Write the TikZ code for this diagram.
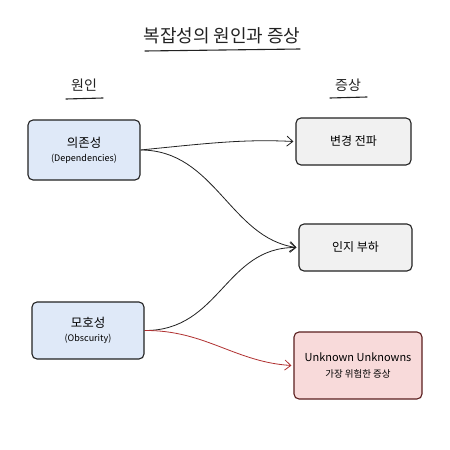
\documentclass[tikz,border=0pt]{standalone}
\usepackage{fontspec}
\setmainfont{Noto Sans CJK KR}
\usetikzlibrary{arrows.meta}
\definecolor{bluefill}{HTML}{DFE9F8}
\definecolor{grayfill}{HTML}{F1F1F1}
\definecolor{pinkfill}{HTML}{F8DADA}
\definecolor{redline}{HTML}{B03030}
\definecolor{redborder}{HTML}{5A1E1E}
\definecolor{ink}{HTML}{222222}
\tikzset{
  box/.style={draw=ink, line width=1.1pt, rounded corners=5pt, inner sep=0pt, align=center},
  causebox/.style={box, fill=bluefill, minimum width=112pt, minimum height=60pt},
  symbox/.style={box, fill=grayfill, minimum width=115pt, minimum height=47pt, font=\fontsize{12}{14}\selectfont},
  riskbox/.style={box, draw=redborder, fill=pinkfill, minimum width=128pt, minimum height=67pt},
  conn/.style={draw=ink, line width=0.8pt, -{Straight Barb[length=6pt,width=10pt]}},
  redconn/.style={conn, draw=redline},
  heading/.style={font=\fontsize{14}{16}\selectfont, text=ink},
  uline/.style={draw=ink, line width=1.1pt, line cap=round}
}
\begin{document}
\begin{tikzpicture}[x=1pt,y=-1pt]
\useasboundingbox[fill=white] (0,0) rectangle (450,450);
% title
\node[font=\fontsize{18}{20}\selectfont, text=ink] (title) at (222,36) {복잡성의 원인과 증상};
\draw[uline] (145,51) -- (300,49);
\node[heading] (cause) at (84,85) {원인};
\draw[uline] (66,99) -- (103,98);
\node[heading] (symp) at (348,85) {증상};
\draw[uline] (330,98) -- (367,97);
% boxes
\node[causebox] (dep) at (84,150) {\fontsize{12.5}{14}\selectfont 의존성\\[2pt]\fontsize{9}{11}\selectfont (Dependencies)};
\node[causebox, minimum height=57pt] (obs) at (88,330.5) {\fontsize{12.5}{14}\selectfont 모호성\\[2pt]\fontsize{9}{11}\selectfont (Obscurity)};
\node[symbox] (chg) at (353.5,141.5) {변경 전파};
\node[symbox, minimum width=113pt] (cog) at (355.5,247.5) {인지 부하};
\node[riskbox] (unk) at (358,365.5) {\fontsize{11}{13}\selectfont Unknown Unknowns\\[4pt]\fontsize{9.5}{11}\selectfont 가장\ 위험한\ 증상};
% connectors
\coordinate (depout) at (dep.east);
\coordinate (obsout) at (obs.east);
\draw[conn] (depout) .. controls (210,143) and (245,139) .. ([xshift=-2pt]chg.west);
\draw[conn] (depout) .. controls (215,150) and (230,238) .. ([xshift=-2pt]cog.west);
\draw[conn] (obsout) .. controls (220,331) and (225,247) .. ([xshift=-2pt]cog.west);
\draw[redconn] (obsout) .. controls (205,330) and (235,362) .. ([xshift=-2pt]unk.west);
\end{tikzpicture}
\end{document}
